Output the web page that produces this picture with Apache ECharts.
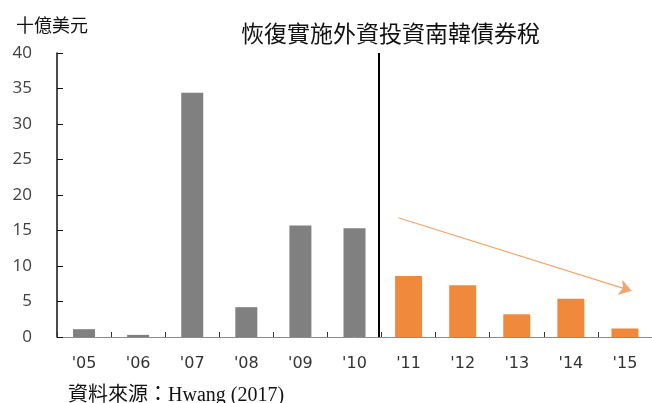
<!DOCTYPE html>
<html style="height: 100%">
<head>
    <meta charset="utf-8">
    <script type="text/javascript" src="https://cdn.jsdelivr.net/npm/echarts@6.0.0/dist/echarts.min.js"></script>
</head>
<body style="height: 100%; margin: 0; background: #fff">
<div id="container" style="height: 403px;width: 652px;position: absolute;top: 0;left: 0;"></div>
<script type="text/javascript">
    // 年份
    var categories = ["'05", "'06", "'07", "'08", "'09", "'10", "'11", "'12", "'13", "'14", "'15"];
    // 恢復課稅前 (灰) / 後 (橙)
    var beforeValues = [1.1, 0.3, 34.4, 4.2, 15.7, 15.3, '-', '-', '-', '-', '-'];
    var afterValues = ['-', '-', '-', '-', '-', '-', 8.6, 7.3, 3.2, 5.4, 1.2];
    // 政策分界線位置 (類別索引) 與趨勢箭頭 [x索引, 值]
    var policyLineX = 5.45;
    var trendArrow = [[5.81, 16.8], [10.12, 6.5]];

    var dom = document.getElementById("container");
    var myChart = echarts.init(dom);
    var labelFont = "'Liberation Serif', 'Noto Sans CJK TC', serif";
    var cjkFont = "'Noto Sans CJK TC', sans-serif";

    var option = {
        animation: false,
        backgroundColor: '#fff',
        title: [
            {
                text: '十億美元',
                left: 11,
                top: 11,
                textStyle: {fontFamily: cjkFont, fontSize: 18, fontWeight: 'normal', color: '#111'}
            },
            {
                text: '恢復實施外資投資南韓債券稅',
                left: 236,
                top: 17,
                textStyle: {fontFamily: cjkFont, fontSize: 23, fontWeight: 'normal', color: '#111'}
            },
            {
                text: '資料來源：Hwang (2017)',
                left: 63,
                top: 381,
                textStyle: {fontFamily: labelFont, fontSize: 20, fontWeight: 'normal', color: '#111'}
            }
        ],
        grid: {left: 57, top: 53, bottom: 66, width: 605},
        xAxis: [
            {
                type: 'category',
                data: categories,
                axisLine: {lineStyle: {color: '#8c8c8c', width: 1}},
                axisTick: {show: true, inside: true, length: 5, lineStyle: {color: '#333'}},
                axisLabel: {margin: 19, fontFamily: "'DejaVu Sans', sans-serif", fontSize: 16, color: '#333'}
            },
            {
                type: 'category',
                data: categories,
                show: false
            },
            {
                type: 'value',
                min: -0.5,
                max: 10.5,
                show: false
            }
        ],
        yAxis: {
            type: 'value',
            min: 0,
            max: 40,
            interval: 5,
            splitLine: {show: false},
            axisLine: {show: true, onZero: false, lineStyle: {color: '#111', width: 1.5}},
            axisTick: {show: true, inside: true, length: 6, lineStyle: {color: '#111'}},
            axisLabel: {margin: 25, fontFamily: "'Open Sans', sans-serif", fontSize: 17, color: '#404040'}
        },
        series: [
            {
                type: 'bar',
                xAxisIndex: 0,
                data: beforeValues,
                barWidth: 22,
                itemStyle: {color: '#808080'}
            },
            {
                type: 'bar',
                xAxisIndex: 1,
                data: afterValues,
                barWidth: 27,
                itemStyle: {color: '#f0893b'}
            },
            {
                type: 'line',
                xAxisIndex: 2,
                data: [],
                silent: true,
                markLine: {
                    silent: true,
                    label: {show: false},
                    data: [
                        [
                            {coord: [policyLineX, 40], symbol: 'none', lineStyle: {color: '#000', width: 2, type: 'solid'}},
                            {coord: [policyLineX, 0], symbol: 'none'}
                        ],
                        [
                            {coord: trendArrow[0], symbol: 'none', lineStyle: {color: '#f5a46c', width: 1.2, type: 'solid'}},
                            {coord: trendArrow[1], symbol: 'arrow', symbolSize: 12}
                        ]
                    ]
                }
            }
        ]
    };
    myChart.setOption(option, true);
</script>
</body>
</html>
